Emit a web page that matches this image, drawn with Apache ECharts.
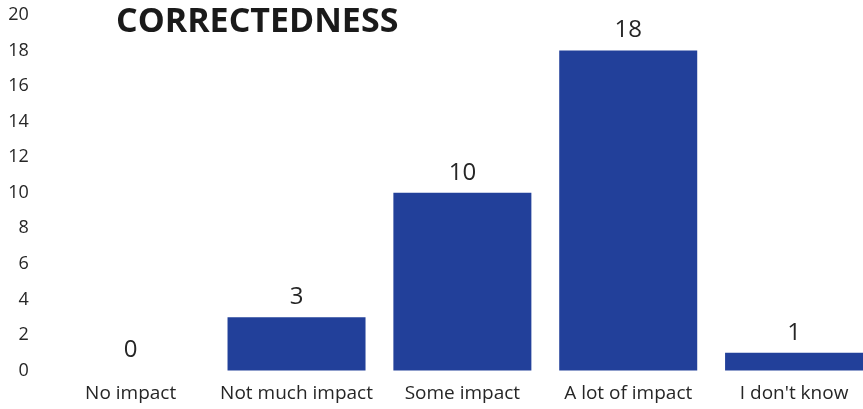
<!DOCTYPE html>
<html>
<head>
<meta charset="utf-8">
<script src="https://cdn.jsdelivr.net/npm/echarts@6/dist/echarts.min.js"></script>
<style>
  html, body { margin: 0; padding: 0; background: #fff; overflow: hidden; }
  /* the drawing is a little wider than the window, so the last bar is cut at the edge */
  #frame { width: 863px; height: 409px; overflow: hidden; }
  #chart { width: 877px; height: 409px; }
</style>
</head>
<body>
<div id="frame"><div id="chart"></div></div>
<script>
// Survey answers: how much impact on correctedness
const categories = ['No impact', 'Not much impact', 'Some impact', 'A lot of impact', "I don't know"];
const counts = [0, 3, 10, 18, 1];
const yTicks = [0, 2, 4, 6, 8, 10, 12, 14, 16, 18, 20];

const FONT = '"Open Sans", "Noto Sans", sans-serif';
const chart = echarts.init(document.getElementById('chart'));

chart.setOption({
  animation: false,
  backgroundColor: '#ffffff',
  title: {
    text: 'CORRECTEDNESS',
    left: 116,
    top: 5,
    padding: 0,
    textStyle: {
      fontFamily: FONT,
      fontWeight: 'bold',
      fontSize: 34,
      color: '#1a1a1a'
    }
  },
  grid: {
    left: 47.75,
    right: 0,
    top: 15,
    bottom: 38.5,
    containLabel: false
  },
  xAxis: {
    type: 'category',
    data: categories,
    axisLine: { show: false },
    axisTick: { show: false },
    axisLabel: {
      interval: 0,
      margin: 14,
      fontFamily: FONT,
      fontSize: 19,
      color: '#262626'
    }
  },
  yAxis: {
    type: 'value',
    min: yTicks[0],
    max: yTicks[yTicks.length - 1],
    interval: yTicks[1] - yTicks[0],
    splitLine: { show: false },
    axisLine: { show: false },
    axisTick: { show: false },
    axisLabel: {
      margin: 19,
      fontFamily: FONT,
      fontSize: 18,
      color: '#262626'
    }
  },
  series: [{
    type: 'bar',
    data: counts,
    barWidth: 138,
    itemStyle: { color: '#22409a' },
    label: {
      show: true,
      position: 'top',
      distance: 8,
      fontFamily: FONT,
      fontSize: 24,
      color: '#262626'
    }
  }]
});
</script>
</body>
</html>
